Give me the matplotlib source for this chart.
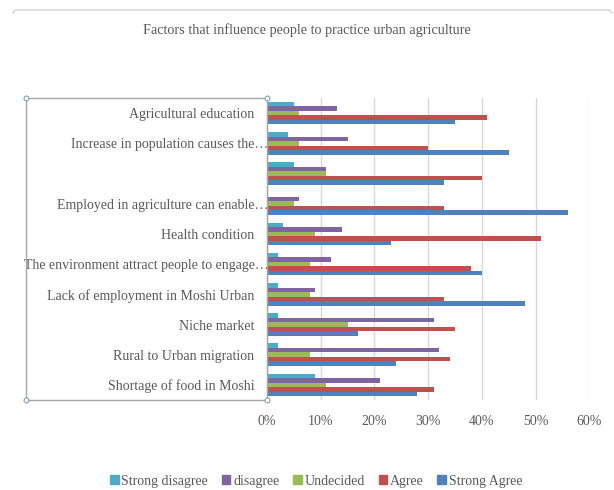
import numpy as np
import matplotlib
matplotlib.use("Agg")
import matplotlib.pyplot as plt
from matplotlib.patches import Rectangle
from matplotlib.lines import Line2D
import matplotlib.transforms as mtransforms

plt.rcParams['font.family'] = ['Liberation Serif', 'DejaVu Serif']

categories = [
    "Agricultural education",
    "Increase in population causes the\u2026",
    "",
    "Employed in agriculture can enable\u2026",
    "Health condition",
    "The environment attract people to engage\u2026",
    "Lack of employment in Moshi Urban",
    "Niche market",
    "Rural to Urban migration",
    "Shortage of food in Moshi",
]
strong_disagree = [0.05, 0.04, 0.05, 0.00, 0.03, 0.02, 0.02, 0.02, 0.02, 0.09]
disagree = [0.13, 0.15, 0.11, 0.06, 0.14, 0.12, 0.09, 0.31, 0.32, 0.21]
undecided = [0.06, 0.06, 0.11, 0.05, 0.09, 0.08, 0.08, 0.15, 0.08, 0.11]
agree = [0.41, 0.30, 0.40, 0.33, 0.51, 0.38, 0.33, 0.35, 0.34, 0.31]
strong_agree = [0.35, 0.45, 0.33, 0.56, 0.23, 0.40, 0.48, 0.17, 0.24, 0.28]

series = [
    ("Strong disagree", strong_disagree, "#4BACC6"),
    ("disagree", disagree, "#8064A2"),
    ("Undecided", undecided, "#9BBB59"),
    ("Agree", agree, "#C0504D"),
    ("Strong Agree", strong_agree, "#4F81BD"),
]

W, H = 614, 490
fig = plt.figure(figsize=(W / 100, H / 100), dpi=100)
txt = "#595959"

# top edge of the chart border, rounded corners at both ends
bt = 1 - 10 / H
fig.lines.append(Line2D([13 / W, 15 / W, 609 / W, 612 / W],
                        [bt - 3 / H, bt, bt, bt - 3 / H],
                        transform=fig.transFigure, color="#d0d0d0", lw=1.0))

fig.text(0.5, 1 - 30 / H, "Factors that influence people to practice urban agriculture",
         ha="center", va="center", fontsize=10.3, color=txt)

left, right, top, bottom = 267 / W, 589.3 / W, 98 / H, 400 / H
ax = fig.add_axes([left, 1 - bottom, right - left, bottom - top])

y = np.arange(len(categories))[::-1].astype(float)
h = 0.15
offsets = [0.3, 0.15, 0.0, -0.15, -0.3]
for (name, vals, col), off in zip(series, offsets):
    ax.barh(y + off, vals, height=h, color=col, label=name, zorder=3)

ax.set_xlim(0, 0.6)
ax.set_ylim(-0.5, len(categories) - 0.5)
ax.set_xticks(np.arange(0, 0.61, 0.1))
ax.set_xticklabels(["{:d}%".format(int(round(v * 100))) for v in np.arange(0, 0.61, 0.1)])
ax.set_yticks(y)
ax.set_yticklabels(categories)
ax.grid(axis="x", color="#d9d9d9", lw=1, zorder=0)
for s in ["top", "right", "bottom"]:
    ax.spines[s].set_visible(False)
ax.spines["left"].set_color("#a0a0a0")
ax.tick_params(axis="both", length=0, colors=txt, labelsize=10)
ax.tick_params(axis="y", pad=9)
ax.tick_params(axis="x", pad=11)

# labels with ellipsis run a bit further right
for lab in ax.get_yticklabels():
    if lab.get_text().endswith("\u2026"):
        lab.set_transform(lab.get_transform() +
                          mtransforms.ScaledTranslation(0.14, 0, fig.dpi_scale_trans))

# selected text box frame around the labels
bx0, bx1 = 26 / W, 267 / W
by0, by1 = 1 - 400 / H, 1 - 98 / H
fig.patches.append(Rectangle((bx0, by0), bx1 - bx0, by1 - by0, transform=fig.transFigure,
                             fill=False, ec="#a6a6a6", lw=1.0, zorder=5))
for cx, cy in [(bx0, by0), (bx0, by1), (bx1, by0), (bx1, by1)]:
    fig.lines.append(Line2D([cx], [cy], transform=fig.transFigure, marker="o", ms=3.5,
                            mfc="white", mec="#7f9fc0", mew=0.8, zorder=6))

handles = [Rectangle((0, 0), 1, 1, color=c) for _, _, c in series]
fig.legend(handles, [n for n, _, _ in series], loc="center", ncol=5,
           bbox_to_anchor=(0.515, 1 - 481 / H), frameon=False, fontsize=10,
           handlelength=0.6, handleheight=0.6, handletextpad=0.2,
           columnspacing=1.0, labelcolor=txt)

fig.savefig("out.png", dpi=100)
